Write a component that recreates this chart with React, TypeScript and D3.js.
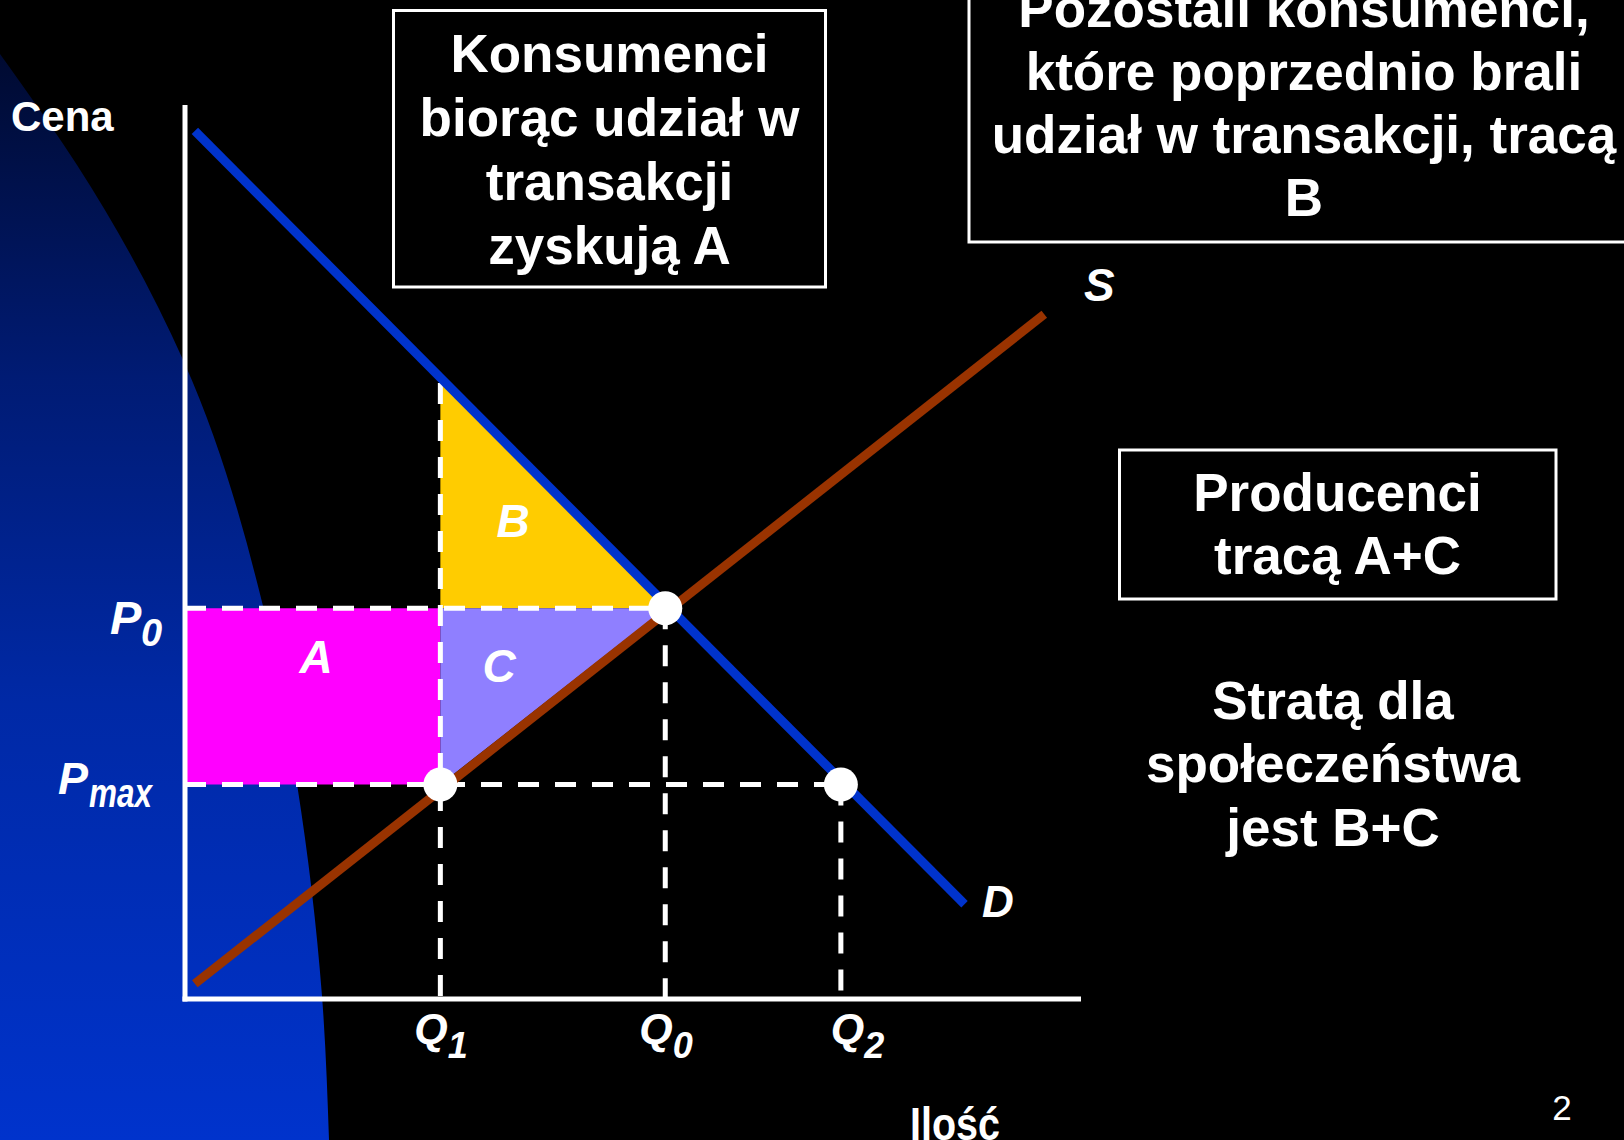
import React, { useEffect } from 'react';
import * as d3 from 'd3';

const W = 1624;
const H = 1140;

// ---- data (chart units: quantity on x, price on y) ----
const quantityNames = ['Q1', 'Q0', 'Q2'];
const quantitySubs = ['1', '0', '2'];
const quantityValues = [2.85, 5.36, 7.32];

const priceNames = ['P0', 'Pmax'];
const priceSubs = ['0', 'max'];
const priceValues = [4.37, 2.4];

const demandPoints: [number, number][] = [[0.11, 9.71], [8.7, 1.06]];
const supplyPoints: [number, number][] = [[0.11, 0.17], [9.59, 7.66]];
const demandAtQ1 = 6.89;

const areaNames = ['A', 'B', 'C'];
const areaColors = ['#ff00ff', '#ffcc00', '#8f7fff'];

const boxConsumers = ['Konsumenci', 'biorąc udział w', 'transakcji', 'zyskują A'];
const boxRemaining = ['Pozostali konsumenci,', 'które poprzednio brali', 'udział w transakcji, tracą', 'B'];
const boxProducers = ['Producenci', 'tracą A+C'];
const lossText = ['Stratą dla', 'społeczeństwa', 'jest B+C'];

// ---- scales ----
const x = d3.scaleLinear().domain([0, 10]).range([185, 1081]);
const y = d3.scaleLinear().domain([0, 10]).range([999, 105]);

const FONT = '"Liberation Sans", Arial, Helvetica, sans-serif';

// decorative slide background arc (pixel space)
const bgArc: [number, number][] = [
  [0, 54], [20, 82], [77, 165], [184, 362], [263, 606], [297, 784], [322, 996], [329, 1140],
];

export default function App() {
  useEffect(() => {
    document.body.style.margin = '0';
    document.body.style.overflow = 'hidden';
    document.body.style.background = '#000';
  }, []);

  const [Q1, Q0, Q2] = quantityValues;
  const [P0, Pmax] = priceValues;

  const line = d3.line<[number, number]>().x(d => x(d[0])).y(d => y(d[1]));
  const bgPath = (d3.line<[number, number]>().curve(d3.curveMonotoneY)(bgArc) || '') + `L0,${H}Z`;

  const areaPolys: [number, number][][] = [
    [[0, Pmax], [Q1, Pmax], [Q1, P0], [0, P0]],
    [[Q1, P0], [Q1, demandAtQ1], [Q0, P0]],
    [[Q1, P0], [Q0, P0], [Q1, Pmax]],
  ];
  const areaLabelPos = [
    { x: 316, y: 673 },
    { x: 513, y: 537 },
    { x: 499, y: 682 },
  ];

  const dashed: [number, number][][] = [
    [[0, P0], [Q0, P0]],
    [[0, Pmax], [Q2, Pmax]],
    [[Q1, demandAtQ1], [Q1, -0.06]],
    [[Q0, P0], [Q0, -0.06]],
    [[Q2, Pmax], [Q2, -0.06]],
  ];
  const dots: [number, number][] = [[Q0, P0], [Q1, Pmax], [Q2, Pmax]];

  const qLabelDx = [-26, -26, -10];
  const pLabel = [
    { x: 110, base: 634, size: 47, subX: 141, subSize: 38, subDy: 12, subLen: 0, subWeight: 400 },
    { x: 58, base: 794, size: 45, subX: 89, subSize: 40, subDy: 13, subLen: 63, subWeight: 700 },
  ];

  const bigText = { fill: '#fff', fontFamily: FONT, fontWeight: 700, fontSize: 53, textAnchor: 'middle' as const };
  const italic = { fill: '#fff', fontFamily: FONT, fontWeight: 700, fontStyle: 'italic' as const };

  return (
    <svg width={W} height={H} style={{ position: 'absolute', left: 0, top: 0, display: 'block' }}>
      <defs>
        <linearGradient id="bgGrad" gradientUnits="userSpaceOnUse" x1="0" y1="50" x2="0" y2="1140">
          <stop offset="0" stopColor="#000a30" />
          <stop offset="0.3" stopColor="#001b74" />
          <stop offset="0.6" stopColor="#0029a6" />
          <stop offset="1" stopColor="#0033cc" />
        </linearGradient>
      </defs>
      <rect x={0} y={0} width={W} height={H} fill="#000" />
      <path d={bgPath} fill="url(#bgGrad)" />

      {/* areas */}
      {areaPolys.map((poly, i) => (
        <path key={areaNames[i]} d={(line(poly) || '') + 'Z'} fill={areaColors[i]} />
      ))}

      {/* dashed guides */}
      {dashed.map((seg, i) => (
        <path key={i} d={line(seg) || ''} stroke="#fff" strokeWidth={5} strokeDasharray="21 16" fill="none" />
      ))}

      {/* axes */}
      <line x1={x(0)} y1={y(10)} x2={x(0)} y2={y(0) + 2.5} stroke="#fff" strokeWidth={5} />
      <line x1={x(0) - 2.5} y1={y(0)} x2={x(10)} y2={y(0)} stroke="#fff" strokeWidth={5} />

      {/* demand & supply */}
      <path d={line(demandPoints) || ''} stroke="#0033cc" strokeWidth={9} fill="none" />
      <path d={line(supplyPoints) || ''} stroke="#993300" strokeWidth={9} fill="none" />

      {/* points */}
      {dots.map((d, i) => (
        <circle key={i} cx={x(d[0])} cy={y(d[1])} r={17} fill="#fff" />
      ))}

      {/* area labels */}
      {areaNames.map((n, i) => (
        <text key={n} x={areaLabelPos[i].x} y={areaLabelPos[i].y} {...italic} fontSize={46} textAnchor="middle">{n}</text>
      ))}

      {/* curve labels */}
      <text x={1084} y={301} {...italic} fontSize={46}>S</text>
      <text x={982} y={917} {...italic} fontSize={44}>D</text>

      {/* quantity labels */}
      {quantityNames.map((n, i) => (
        <text key={n} x={x(quantityValues[i]) + qLabelDx[i]} y={1043} {...italic} fontSize={43}>
          Q<tspan fontSize={36} dy={15}>{quantitySubs[i]}</tspan>
        </text>
      ))}

      {/* price labels */}
      {priceNames.map((n, i) => (
        <g key={n}>
          <text x={pLabel[i].x} y={pLabel[i].base} {...italic} fontSize={pLabel[i].size}>P</text>
          <text
            x={pLabel[i].subX}
            y={pLabel[i].base + pLabel[i].subDy}
            {...italic}
            fontSize={pLabel[i].subSize}
            {...(pLabel[i].subLen ? { textLength: pLabel[i].subLen, lengthAdjust: 'spacingAndGlyphs' } : {})}
          >{priceSubs[i]}</text>
        </g>
      ))}

      {/* axis titles */}
      <text x={11} y={131} fill="#fff" fontFamily={FONT} fontWeight={700} fontSize={42}>Cena</text>
      <text x={910} y={1140} fill="#fff" fontFamily={FONT} fontWeight={700} fontSize={46} textLength={90} lengthAdjust="spacingAndGlyphs">Ilość</text>

      {/* box 1 */}
      <rect x={393.5} y={10.5} width={432} height={276.5} fill="none" stroke="#fff" strokeWidth={3} />
      {boxConsumers.map((t, i) => (
        <text key={t} x={609.5} y={72 + i * 64} {...bigText}>{t}</text>
      ))}

      {/* box 2 (extends past the slide's top and right edges) */}
      <rect x={969} y={-10} width={680} height={252} fill="none" stroke="#fff" strokeWidth={3} />
      {boxRemaining.map((t, i) => (
        <text key={t} x={1304} y={27 + i * 63} {...bigText}>{t}</text>
      ))}

      {/* box 3 */}
      <rect x={1119.5} y={450} width={436.5} height={149} fill="none" stroke="#fff" strokeWidth={3} />
      {boxProducers.map((t, i) => (
        <text key={t} x={1337.5} y={511 + i * 63} {...bigText}>{t}</text>
      ))}

      {/* loss text */}
      {lossText.map((t, i) => (
        <text key={t} x={1333} y={718.5 + i * 63.5} {...bigText}>{t}</text>
      ))}

      {/* slide number */}
      <text x={1562} y={1120} fill="#fff" fontFamily={FONT} fontSize={35} textAnchor="middle">2</text>
    </svg>
  );
}
